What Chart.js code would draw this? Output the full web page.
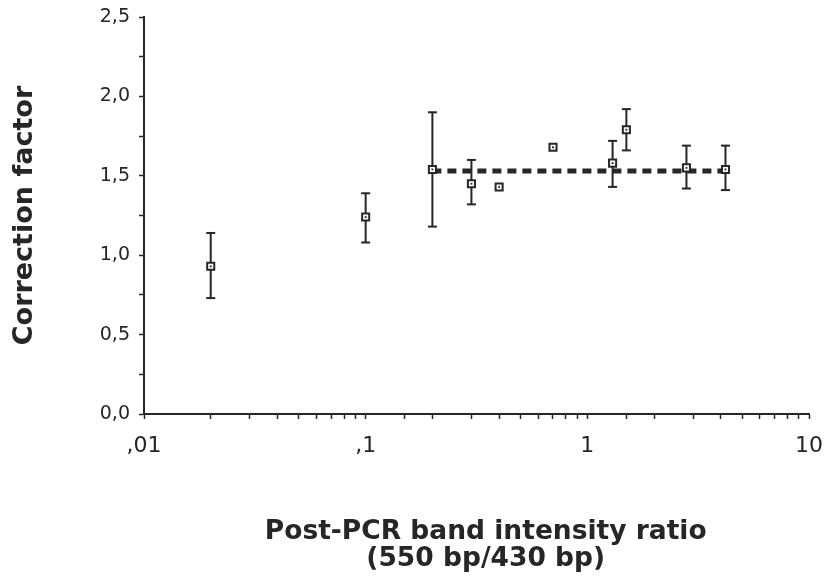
<!doctype html>
<html lang="en">
<head>
    <meta charset="utf-8">
    <script src="https://cdn.jsdelivr.net/npm/chart.js"></script>
    <style>
        html, body { margin: 0; padding: 0; background: #fff; }
    </style>
</head>
<body>
    <canvas id="myChart" width="825" height="577"></canvas>
    <script>
        // values
        const ratio  = [0.02, 0.1, 0.2, 0.3, 0.4, 0.7, 1.3, 1.5, 2.8, 4.2];
        const factor = [0.93, 1.24, 1.54, 1.45, 1.43, 1.68, 1.58, 1.79, 1.55, 1.54];
        const errLow  = [0.73, 1.08, 1.18, 1.32, null, null, 1.43, 1.66, 1.42, 1.41];
        const errHigh = [1.14, 1.39, 1.90, 1.60, null, null, 1.72, 1.92, 1.69, 1.69];
        const fitX = [0.2, 4.4];
        const fitY = [1.53, 1.53];
        const xTickValues = [0.01, 0.1, 1, 10];
        const xTickLabels = [',01', ',1', '1', '10'];
        const yTickValues = [0, 0.5, 1, 1.5, 2, 2.5];
        const yTickLabels = ['0,0', '0,5', '1,0', '1,5', '2,0', '2,5'];

        const ink = '#262626';

        const points = ratio.map((x, i) => ({ x: x, y: factor[i] }));
        const bars = [];
        ratio.forEach((x, i) => {
            if (errLow[i] === null) return;
            bars.push({ x: x, y: errLow[i] });
            bars.push({ x: x, y: errHigh[i] });
            bars.push({ x: x, y: null });
        });
        const fit = fitX.map((x, i) => ({ x: x, y: fitY[i] }));

        const config = {
            type: 'scatter',
            data: {
                datasets: [
                    {   // centre dot of each marker
                        data: points,
                        pointStyle: 'rect',
                        pointRadius: 1.3,
                        pointBorderWidth: 0,
                        pointBackgroundColor: ink
                    },
                    {
                        data: points,
                        pointStyle: 'rect',
                        pointRadius: 5,
                        pointBorderWidth: 2,
                        pointBorderColor: ink,
                        pointBackgroundColor: '#fff'
                    },
                    {
                        data: fit,
                        showLine: true,
                        borderColor: ink,
                        borderWidth: 5,
                        borderDash: [9, 6],
                        pointRadius: 0
                    },
                    {   // error bars with caps
                        data: bars,
                        showLine: true,
                        spanGaps: false,
                        borderColor: ink,
                        borderWidth: 2,
                        pointStyle: 'line',
                        pointRadius: 4.5,
                        pointBorderWidth: 2,
                        pointBorderColor: ink
                    }
                ]
            },
            options: {
                responsive: false,
                animation: false,
                devicePixelRatio: 1,
                layout: { padding: { top: 17, right: 16, left: 0, bottom: 0 } },
                plugins: {
                    legend: { display: false },
                    tooltip: { enabled: false }
                },
                scales: {
                    x: {
                        type: 'logarithmic',
                        position: 'bottom',
                        min: 0.01,
                        max: 10,
                        afterFit: s => {
                            s.height = 163;
                            s.paddingLeft = 0;
                            s.paddingRight = 0;
                        },
                        border: { color: ink, width: 2 },
                        grid: { drawOnChartArea: false, drawTicks: true, tickLength: 5, tickColor: ink, tickWidth: 1.5 },
                        ticks: {
                            autoSkip: false,
                            maxRotation: 0,
                            padding: 14,
                            color: ink,
                            font: { family: 'DejaVu Sans', size: 22 },
                            callback: function (v) {
                                const i = xTickValues.findIndex(t => Math.abs(t - v) < t * 1e-6);
                                return i < 0 ? '' : xTickLabels[i];
                            }
                        },
                        title: {
                            display: true,
                            text: ['  Post-PCR band intensity ratio', '  (550 bp/430 bp)'],
                            color: ink,
                            font: { family: 'DejaVu Sans', size: 26.5, weight: 'bold', lineHeight: 1.04 },
                            padding: { top: 0, bottom: 4 }
                        }
                    },
                    y: {
                        min: 0,
                        max: 2.5,
                        afterFit: s => {
                            s.width = 144;
                            s.paddingTop = 0;
                            s.paddingBottom = 0;
                        },
                        border: { color: ink, width: 2 },
                        grid: { drawOnChartArea: false, drawTicks: true, tickLength: 5, tickColor: ink, tickWidth: 1.5 },
                        ticks: {
                            stepSize: 0.25,
                            padding: 9,
                            color: ink,
                            font: { family: 'DejaVu Sans', size: 19 },
                            callback: function (v) {
                                const i = yTickValues.findIndex(t => Math.abs(t - v) < 1e-6);
                                return i < 0 ? '' : yTickLabels[i];
                            }
                        },
                        title: {
                            display: true,
                            text: 'Correction factor',
                            color: ink,
                            font: { family: 'DejaVu Sans', size: 27, weight: 'bold' },
                            padding: { top: 9, bottom: 0 }
                        }
                    }
                }
            }
        };

        const myChart = new Chart(document.getElementById('myChart'), config);
    </script>
</body>
</html>
